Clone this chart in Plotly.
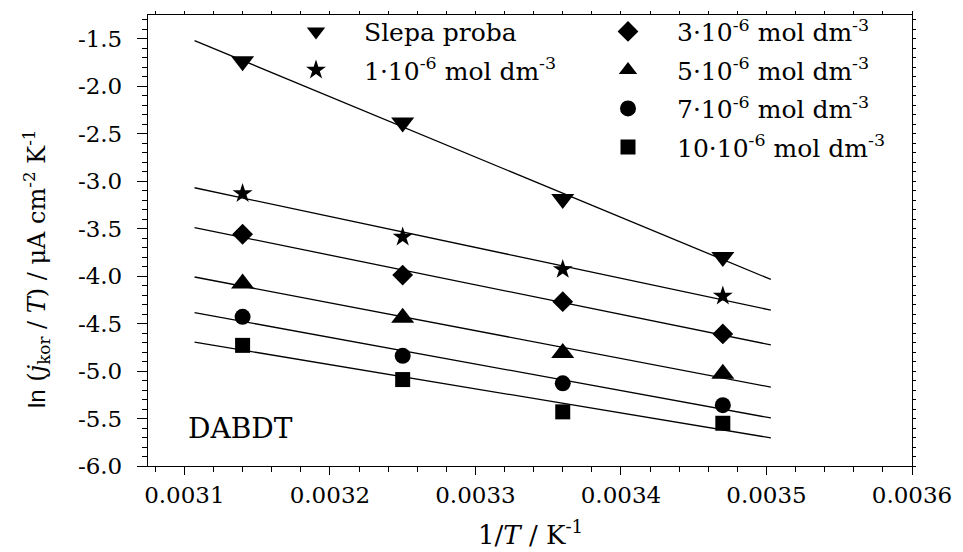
import numpy as np
import plotly.graph_objects as go

# Inverse temperature (1/T, K^-1) at which corrosion current was measured
inv_T = [0.00314, 0.00325, 0.00336, 0.00347]

# ln(j_kor/T) for the blank run and each DABDT concentration
ln_blank = [-1.74, -2.385, -3.19, -3.80]
ln_c1 = [-3.13, -3.59, -3.93, -4.21]
ln_c3 = [-3.56, -3.99, -4.27, -4.61]
ln_c5 = [-4.08, -4.44, -4.81, -5.03]
ln_c7 = [-4.43, -4.84, -5.13, -5.36]
ln_c10 = [-4.73, -5.09, -5.43, -5.55]

# x-span of the fitted Arrhenius lines
fit_span = [0.003107, 0.003503]

series_labels = [
    "Slepa proba",
    "1·10<sup>-6</sup> mol dm<sup>-3</sup>",
    "3·10<sup>-6</sup> mol dm<sup>-3</sup>",
    "5·10<sup>-6</sup> mol dm<sup>-3</sup>",
    "7·10<sup>-6</sup> mol dm<sup>-3</sup>",
    "10·10<sup>-6</sup> mol dm<sup>-3</sup>",
]
series_values = [ln_blank, ln_c1, ln_c3, ln_c5, ln_c7, ln_c10]
series_symbols = ["triangle-down", "star", "diamond", "triangle-up", "circle", "square"]
series_sizes = [20, 15, 16, 20, 16, 15]
series_legend = ["legend", "legend", "legend2", "legend2", "legend2", "legend2"]

x_tick_vals = [0.0031, 0.0032, 0.0033, 0.0034, 0.0035, 0.0036]
x_tick_text = ["0.0031", "0.0032", "0.0033", "0.0034", "0.0035", "0.0036"]
y_tick_vals = [-6.0, -5.5, -5.0, -4.5, -4.0, -3.5, -3.0, -2.5, -2.0, -1.5]
y_tick_text = ["-6.0", "-5.5", "-5.0", "-4.5", "-4.0", "-3.5", "-3.0", "-2.5", "-2.0", "-1.5"]

y_title = ("<span style=\"font-family:Liberation Sans\">ln</span> (<i>j</i><sub>kor</sub> / "
           "<i>T</i>) / μA cm<sup>-2</sup> K<sup>-1</sup>")
x_title = "1/<i>T</i> / K<sup>-1</sup>"
panel_label = "DABDT"

SERIF = "DejaVu Serif"
X_RANGE = [0.003075, 0.0036]
Y_RANGE = [-6.0, -1.252]

fig = go.Figure()

xs = np.array(inv_T)
xfit = np.array(fit_span)
for vals in series_values:
    k, b = np.polyfit(xs, np.array(vals), 1)
    fig.add_trace(go.Scatter(
        x=xfit, y=k * xfit + b, mode="lines",
        line=dict(color="black", width=1.3),
        showlegend=False, hoverinfo="skip",
    ))

for name, vals, sym, size, lg in zip(series_labels, series_values, series_symbols,
                                     series_sizes, series_legend):
    fig.add_trace(go.Scatter(
        x=inv_T, y=vals, mode="markers", name=name,
        marker=dict(symbol=sym, size=size, color="black", line=dict(width=0)),
        legend=lg, legendgroup=name,
    ))

axis_common = dict(
    showline=True, linecolor="black", linewidth=1.3,
    showgrid=False, zeroline=False, automargin=False,
    ticks="outside", tickcolor="black", tickwidth=1.2,
    tickfont=dict(family=SERIF, size=23, color="black"),
)

legend_common = dict(
    y=1.014, xanchor="left", yanchor="top",
    bgcolor="rgba(0,0,0,0)", tracegroupgap=3,
    font=dict(family=SERIF, size=25, color="black"),
)

fig.update_layout(
    width=963, height=552,
    margin=dict(l=148, r=51, t=15, b=86, autoexpand=False),
    paper_bgcolor="white", plot_bgcolor="white",
    font=dict(family=SERIF, color="black"),
    xaxis=dict(
        range=X_RANGE,
        tickmode="array", tickvals=x_tick_vals, ticktext=x_tick_text,
        ticklen=8, ticklabelstandoff=0,
        minor=dict(tickmode="linear", tick0=0.0031, dtick=0.00002, ticklen=5,
                   tickcolor="black", tickwidth=1, ticks="outside"),
        **axis_common,
    ),
    yaxis=dict(
        range=Y_RANGE,
        tickmode="array", tickvals=y_tick_vals, ticktext=y_tick_text,
        ticklen=10, ticklabelstandoff=10,
        minor=dict(tickmode="linear", tick0=-6.0, dtick=0.1, ticklen=5,
                   tickcolor="black", tickwidth=1, ticks="outside"),
        **axis_common,
    ),
    xaxis2=dict(
        overlaying="x", side="top", anchor="y", range=X_RANGE, automargin=False,
        showline=True, linecolor="black", linewidth=1.3, showgrid=False,
        zeroline=False, showticklabels=False,
        tickmode="linear", tick0=0.0031, dtick=0.00002,
        ticks="outside", ticklen=3, tickcolor="black", tickwidth=1,
    ),
    yaxis2=dict(
        overlaying="y", side="right", anchor="x", range=Y_RANGE, automargin=False,
        showline=True, linecolor="black", linewidth=1.3, showgrid=False,
        zeroline=False, showticklabels=False,
        tickmode="linear", tick0=-6.0, dtick=0.1,
        ticks="outside", ticklen=3, tickcolor="black", tickwidth=1,
    ),
    legend=dict(x=(268 - 148) / 764, itemwidth=86, **legend_common),
    legend2=dict(x=(579 - 148) / 764, itemwidth=88, **legend_common),
    annotations=[
        dict(text=panel_label, x=0.0031388, y=-5.6, xref="x", yref="y",
             showarrow=False, font=dict(family=SERIF, size=28, color="black")),
        dict(text=y_title, textangle=-90, x=0, y=(466 - 269) / 451,
             xref="paper", yref="paper", xanchor="center", yanchor="middle",
             xshift=-112, showarrow=False,
             font=dict(family=SERIF, size=24, color="black")),
        dict(text=x_title, x=0.5, y=(466 - 552) / 451,
             xref="paper", yref="paper", xanchor="center", yanchor="bottom",
             showarrow=False, font=dict(family=SERIF, size=26, color="black")),
    ],
)

# empty traces so the mirrored tick axes on top and right are drawn
fig.add_trace(go.Scatter(x=[None], y=[None], xaxis="x2", yaxis="y", showlegend=False))
fig.add_trace(go.Scatter(x=[None], y=[None], xaxis="x", yaxis="y2", showlegend=False))

fig.write_html("out.html")
